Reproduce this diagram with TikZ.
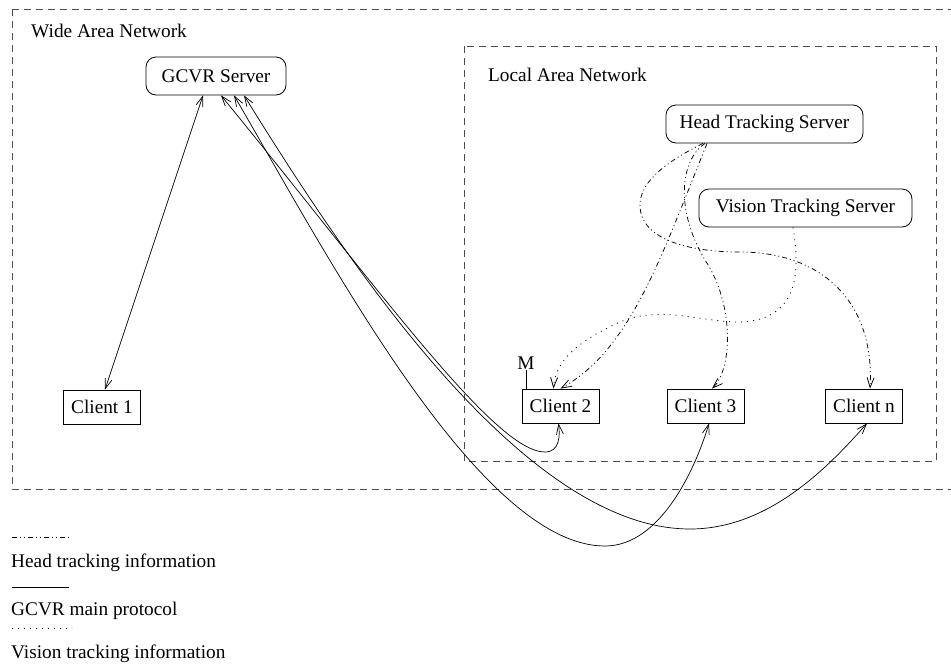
\documentclass[tikz,border=0pt]{standalone}
\usepackage{fontspec}
\setmainfont{Liberation Serif}
\usetikzlibrary{arrows.meta}
\begin{document}
\begin{tikzpicture}[x=1pt,y=-1pt,
  >={Straight Barb[length=10pt,width=7pt]},
  every node/.style={font=\fontsize{19.3}{23}\selectfont},
  box/.style={draw, line width=0.8pt, inner sep=0pt, minimum height=34pt, minimum width=77pt},
  server/.style={draw, line width=0.8pt, rounded corners=10pt, inner sep=0pt, minimum height=38pt},
  area/.style={draw=black!70, line width=0.8pt, dash pattern=on 7pt off 5pt},
  lbl/.style={anchor=base west, inner sep=0pt},
  link/.style={line width=0.7pt},
  headline/.style={line width=0.75pt, dash pattern=on 5pt off 3pt on 1pt off 3pt on 1pt off 3pt},
  visline/.style={line width=0.8pt, dash pattern=on 1pt off 5pt},
]
\useasboundingbox (0,0) rectangle (951,665);

% areas
\draw[area] (12,9) -- (960,9) (12,9) -- (12,489) -- (960,489);
\draw[area] (464,46) rectangle (936,461);
\node[lbl] (wan) at (31,37) {Wide Area Network};
\node[lbl] (lan) at (488,81) {Local Area Network};

% nodes
\node[server, minimum width=140pt] (gcvr) at (216,76) {GCVR Server};
\node[server, minimum width=197pt] (hts) at (764.5,124) {Head Tracking Server};
\node[server, minimum width=213pt] (vts) at (805.5,208) {Vision Tracking Server};
\node[box] (c1) at (102,407) {Client 1};
\node[box] (c2) at (560.5,406) {Client 2};
\node[box] (c3) at (705.5,406) {Client 3};
\node[box] (cn) at (864,406) {Client n};
\node[anchor=south, inner sep=0pt] (m) at (526,370) {M};
\draw[link] (c2.north west -| m.south) -- (m.south);

% GCVR main protocol
\draw[link, <->] ([xshift=3pt]c1.north) -- ([xshift=-13pt]gcvr.south);
\draw[link, <->] ([xshift=5pt]gcvr.south)
  .. controls (380,290) and (495,452) .. (545,452)
  .. controls (560,452) and (560,435) .. ([xshift=-2pt]c2.south);
\draw[link, <->] ([xshift=18pt]gcvr.south)
  .. controls (330,260) and (480,546) .. (605,546)
  .. controls (660,546) and (695,470) .. ([xshift=3.5pt]c3.south);
\draw[link, <->] ([xshift=28pt]gcvr.south)
  .. controls (340,250) and (520,529) .. (690,529)
  .. controls (770,529) and (830,465) .. ([xshift=3pt]cn.south);

% head tracking
\draw[headline, ->] ([xshift=-57.5pt]hts.south)
  .. controls (660,260) and (630,350) .. (c2.north);
\draw[headline, ->] ([xshift=-59.5pt]hts.south)
  .. controls (680,160) and (675,210) .. (705,260)
  .. controls (735,305) and (732,370) .. ([xshift=6.5pt]c3.north);
\draw[headline, ->] ([xshift=-61.5pt]hts.south)
  .. controls (670,160) and (640,180) .. (640,205)
  .. controls (640,240) and (690,252) .. (740,252)
  .. controls (820,252) and (875,300) .. ([xshift=6pt]cn.north);

% vision tracking
\draw[visline, ->] ([xshift=-12.5pt]vts.south)
  .. controls (800,270) and (800,320) .. (740,322)
  .. controls (700,322) and (660,305) .. (620,322)
  .. controls (580,340) and (555,360) .. ([xshift=-7pt]c2.north);

% legend
\coordinate (l1a) at (12,537); \coordinate (l1b) at (69,537);
\coordinate (l2a) at (12,587); \coordinate (l2b) at (69,587);
\coordinate (l3a) at (12,628); \coordinate (l3b) at (72,628);
\draw[headline] (l1a) -- (l1b);
\draw[link] (l2a) -- (l2b);
\draw[visline] (l3a) -- (l3b);
\node[lbl] (t1) at (11,567) {Head tracking information};
\node[lbl] (t2) at (11,615) {GCVR main protocol};
\node[lbl] (t3) at (11,658) {Vision tracking information};
\end{tikzpicture}
\end{document}
